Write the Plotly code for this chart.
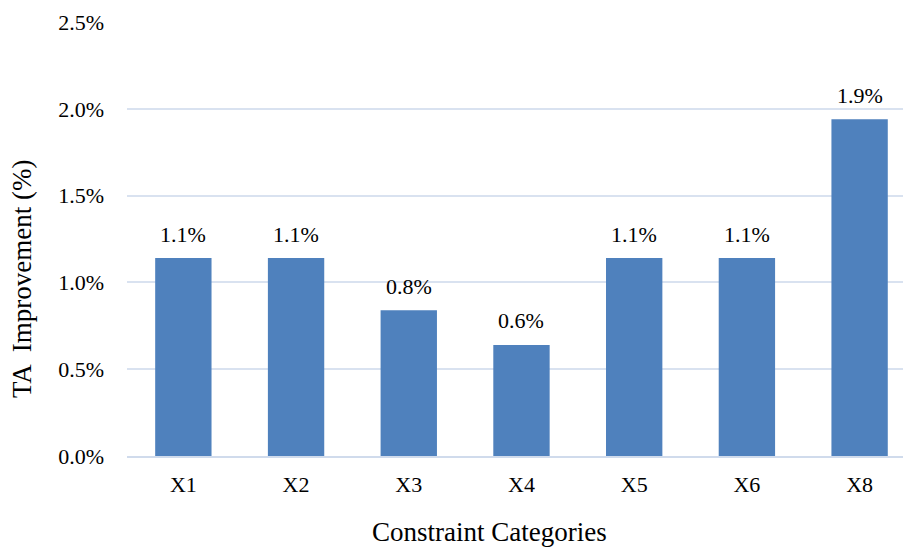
import plotly.graph_objects as go

categories = ["X1", "X2", "X3", "X4", "X5", "X6", "X8"]
values = [1.14, 1.14, 0.84, 0.64, 1.14, 1.14, 1.94]
y_ticks = [0.0, 0.5, 1.0, 1.5, 2.0, 2.5]
y_tick_labels = ["0.0%", "0.5%", "1.0%", "1.5%", "2.0%", "2.5%"]

FONT = "Liberation Serif, Times New Roman, serif"

W, H = 903, 547
L, R, T, B = 127, 0, 22, 91
PW, PH = W - L - R, H - T - B


def px_to_paper(px, py):
    return (px - L) / PW, (H - B - py) / PH


fig = go.Figure()
fig.add_trace(go.Bar(
    x=categories, y=values,
    marker=dict(color="#4F81BD", line=dict(width=0)),
    cliponaxis=False,
))

for c, v in zip(categories, values):
    fig.add_annotation(
        x=c, y=v, text=f"{v:.1f}%", showarrow=False,
        yanchor="middle", yshift=24,
        font=dict(family=FONT, size=22, color="#000000"),
    )

xt_x, xt_y = px_to_paper(489.5, 532)
fig.add_annotation(
    xref="paper", yref="paper", x=xt_x, y=xt_y,
    text="Constraint Categories", showarrow=False,
    xanchor="center", yanchor="middle",
    font=dict(family=FONT, size=27, color="#000000"),
)
yt_x, yt_y = px_to_paper(22, 279)
fig.add_annotation(
    xref="paper", yref="paper", x=yt_x, y=yt_y,
    text="TA  Improvement (%)", showarrow=False, textangle=-90,
    xanchor="center", yanchor="middle",
    font=dict(family=FONT, size=27, color="#000000"),
)

fig.update_layout(
    width=W, height=H,
    margin=dict(l=L, r=R, t=T, b=B),
    paper_bgcolor="white", plot_bgcolor="white",
    bargap=0.5,
    showlegend=False,
    font=dict(family=FONT, size=22, color="#000000"),
    xaxis=dict(
        range=[-0.5, 6.385],
        showgrid=False,
        showline=True, linecolor="#D0DBEC", linewidth=2,
        ticks="", ticklabelstandoff=8,
        tickfont=dict(family=FONT, size=22),
    ),
    yaxis=dict(
        range=[0, 2.5],
        tickvals=y_ticks, ticktext=y_tick_labels,
        showgrid=True, gridcolor="#D9E2F0", gridwidth=2,
        zeroline=False, showline=False,
        ticks="", ticklabelstandoff=22,
        tickfont=dict(family=FONT, size=22),
    ),
)

fig.write_html("out.html")
